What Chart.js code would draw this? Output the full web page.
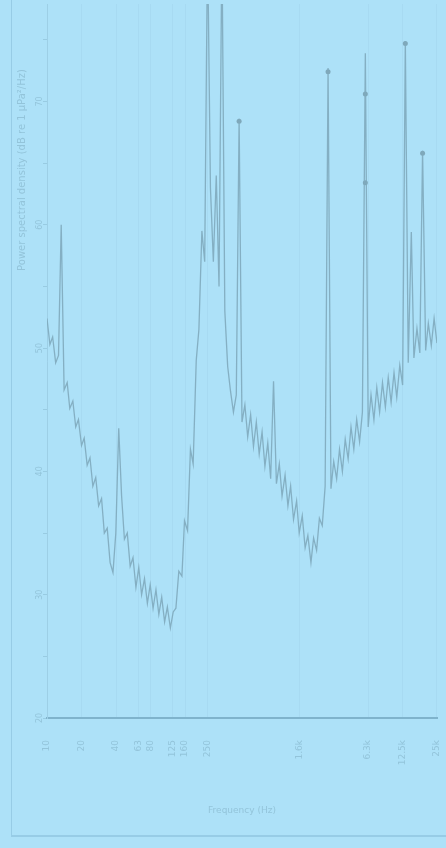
<!DOCTYPE html>
<html>
<head>
<meta charset="utf-8">
<script src="https://cdn.jsdelivr.net/npm/chart.js@4/dist/chart.umd.min.js"></script>
<style>
  html, body { margin: 0; padding: 0; background: #ade1f8; overflow: hidden; }
  #wrap { position: relative; width: 446px; height: 848px; }
  #frame { position: absolute; left: 11px; top: -2px; width: 460px; height: 837px;
           border-left: 1px solid #97cce6; border-bottom: 2px solid #97cce6; }
  canvas { position: absolute; left: 0; top: 0; }
</style>
</head>
<body>
<div id="wrap">
  <div id="frame"></div>
  <canvas id="spectrum" width="446" height="848"></canvas>
</div>
<script>
// frequency bins (Hz)
const freqs = [
    10, 10.6, 11.2, 11.9, 12.6, 13.3, 14.1, 15.0, 15.8, 16.8, 17.8, 18.8, 20.0, 21.1, 22.4, 23.7, 25.1, 26.6, 28.2, 29.9,
    31.6, 33.5, 35.5, 37.6, 39.8, 42.2, 44.7, 47.3, 50.1, 53.1, 56.2, 59.6, 63.1, 66.8, 70.8, 75.0, 79.4, 84.1, 89.1, 94.4,
    100, 106, 112, 119, 126, 133, 141, 150, 158, 168, 178, 188, 200, 211, 224, 237, 251, 266, 282, 299,
    316, 335, 355, 376, 398, 422, 447, 473, 501, 531, 562, 596, 631, 668, 708, 750, 794, 841, 891, 944,
    1000, 1060, 1120, 1190, 1260, 1330, 1410, 1500, 1580, 1680, 1780, 1880, 2000, 2110, 2240, 2370, 2510, 2660, 2820, 2990,
    3160, 3350, 3550, 3760, 3980, 4220, 4470, 4730, 5010, 5310, 5620, 5960, 6310, 6680, 7080, 7500, 7940, 8410, 8910, 9440,
    10000, 10600, 11200, 11900, 12600, 13300, 14100, 15000, 15800, 16800, 17800, 18800, 20000, 21100, 22400, 23700, 25100
];

// level in dB
const levels = [
    52.4, 50.3, 50.9, 48.8, 49.4, 60.0, 46.6, 47.2, 45.1, 45.7,
    43.6, 44.2, 42.1, 42.7, 40.5, 41.1, 38.8, 39.5, 37.2, 37.8,
    35.0, 35.4, 32.6, 31.8, 35.0, 43.5, 38.0, 34.5, 35.0, 32.3,
    33.0, 30.6, 32.2, 30.0, 31.3, 29.3, 30.8, 28.9, 30.4, 28.4,
    29.8, 27.8, 29.0, 27.3, 28.6, 28.9, 31.9, 31.5, 36.0, 35.2,
    41.8, 40.6, 49.0, 51.5, 59.5, 57.0, 83.0, 63.0, 57.0, 64.0,
    55.0, 83.0, 53.0, 48.5, 46.5, 44.8, 46.2, 68.6, 44.0, 45.4,
    42.8, 44.6, 42.0, 44.0, 41.4, 43.2, 40.4, 42.3, 39.4, 47.3,
    39.0, 40.6, 38.0, 39.7, 37.2, 38.8, 36.1, 37.6, 35.0, 36.4,
    33.8, 34.8, 32.6, 34.6, 33.6, 36.2, 35.6, 38.8, 72.7, 38.6,
    40.8, 39.4, 41.8, 40.0, 42.6, 41.0, 43.6, 41.8, 44.2, 42.4,
    44.8, 73.9, 43.6, 46.2, 44.2, 46.8, 44.8, 47.2, 45.2, 47.6,
    45.6, 48.0, 46.0, 48.6, 47.0, 74.9, 48.8, 59.4, 49.2, 51.6,
    49.6, 66.0, 49.8, 52.0, 50.2, 52.4, 50.4
];

// marked peaks
const peakFreqs = [473, 2820, 5960, 5960, 13300, 18800];
const peakLevels = [68.4, 72.4, 70.6, 63.4, 74.7, 65.8];

const xTickValues = [10, 20, 40, 63, 80, 125, 160, 250, 1600, 6300, 12500, 25000];
const xTickLabels = ['10', '20', '40', '63', '80', '125', '160', '250', '1.6k', '6.3k', '12.5k', '25k'];
const yTickValues = [20, 25, 30, 35, 40, 45, 50, 55, 60, 65, 70, 75];
const yLabelValues = [20, 30, 40, 50, 60, 70];

const xTitle = 'Frequency (Hz)';
const yTitle = 'Power spectral density (dB re 1 \u00b5Pa\u00b2/Hz)';

const textColor = '#93c4da';
const lineColor = 'rgba(128,170,188,0.9)';

// y tick labels and title are drawn turned on their side
const sideText = {
    id: 'sideText',
    afterDraw(chart) {
        const ctx = chart.ctx;
        const y = chart.scales.y;
        ctx.save();
        ctx.fillStyle = textColor;
        ctx.textAlign = 'center';
        ctx.textBaseline = 'middle';
        ctx.font = '8px "DejaVu Sans"';
        yLabelValues.forEach(v => {
            ctx.save();
            ctx.translate(40, y.getPixelForValue(v));
            ctx.rotate(-Math.PI / 2);
            ctx.fillText(String(v), 0, 0);
            ctx.restore();
        });
        ctx.font = '10px "DejaVu Sans"';
        ctx.translate(22, 170);
        ctx.rotate(-Math.PI / 2);
        ctx.fillText(yTitle, 0, 0);
        ctx.restore();
    }
};

const ctx = document.getElementById('spectrum').getContext('2d');
new Chart(ctx, {
    type: 'line',
    data: {
        datasets: [
            {
                label: 'PSD',
                data: freqs.map((f, i) => ({ x: f, y: levels[i] })),
                borderColor: lineColor,
                borderWidth: 1.3,
                pointRadius: 0,
                tension: 0,
                fill: false
            },
            {
                type: 'scatter',
                label: 'peaks',
                data: peakFreqs.map((f, i) => ({ x: f, y: peakLevels[i] })),
                backgroundColor: '#7fa8ba',
                borderWidth: 0,
                pointRadius: 2.5
            }
        ]
    },
    plugins: [sideText],
    options: {
        responsive: false,
        animation: false,
        layout: { padding: { left: 0, right: 9, top: 0, bottom: 28 } },
        plugins: {
            legend: { display: false },
            tooltip: { enabled: false }
        },
        scales: {
            x: {
                type: 'logarithmic',
                min: 10,
                max: 25119,
                afterBuildTicks: scale => { scale.ticks = xTickValues.map(v => ({ value: v })); },
                afterFit: scale => {
                    scale.height = 102;
                    scale.paddingLeft = 0;
                    scale.paddingRight = 0;
                },
                ticks: {
                    autoSkip: false,
                    minRotation: 90,
                    maxRotation: 90,
                    padding: 22,
                    color: textColor,
                    font: { family: 'DejaVu Sans', size: 9 },
                    callback: (v, i) => xTickLabels[i]
                },
                grid: { color: 'rgba(150,200,222,0.25)', drawTicks: false },
                border: { color: '#7fb3cc', width: 2 },
                title: {
                    display: true,
                    text: xTitle,
                    color: textColor,
                    font: { family: 'DejaVu Sans', size: 9 },
                    padding: { top: 4, bottom: 4 }
                }
            },
            y: {
                type: 'linear',
                min: 20,
                max: 77.9,
                afterBuildTicks: scale => { scale.ticks = yTickValues.map(v => ({ value: v })); },
                afterFit: scale => { scale.width = 47; },
                ticks: { display: false },
                grid: { drawOnChartArea: false, tickLength: 4, color: '#98cbe2' },
                border: { color: '#9dcfe6', width: 1 }
            }
        }
    }
});
</script>
</body>
</html>
